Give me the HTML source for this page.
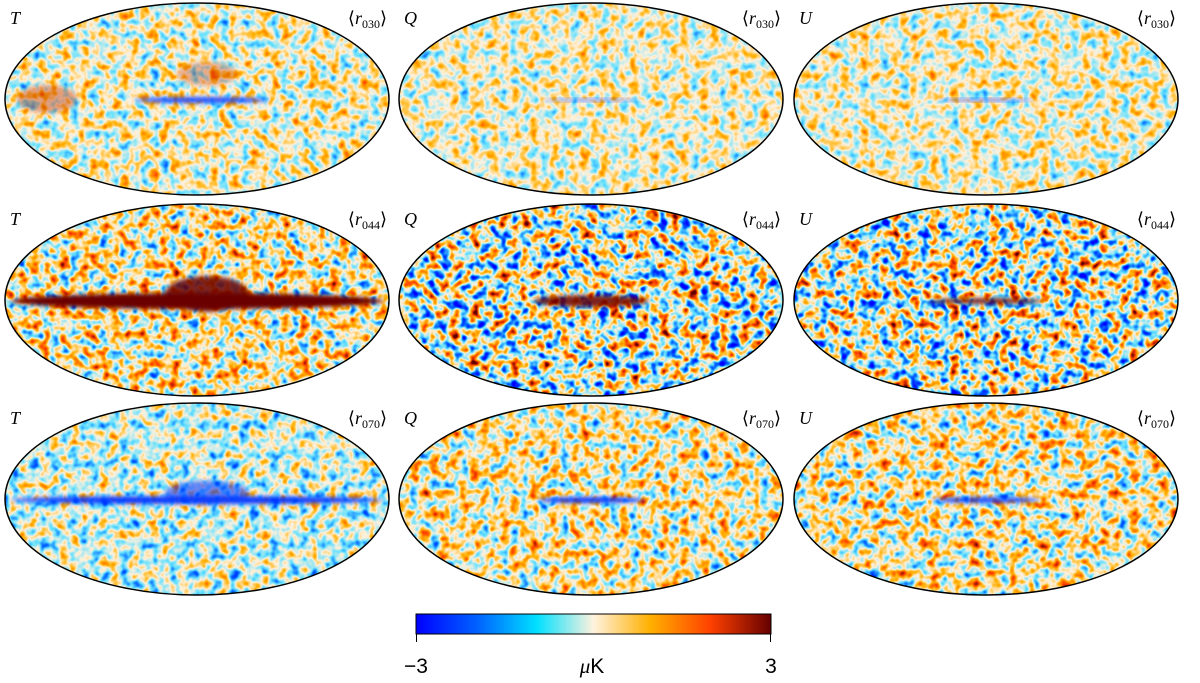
<!DOCTYPE html>
<html><head><meta charset="utf-8">
<style>
html,body{margin:0;padding:0;background:#fff;}
svg{display:block;}
</style></head>
<body>
<svg id="fig" width="1200" height="683" viewBox="0 0 1200 683" xmlns="http://www.w3.org/2000/svg">
<defs id="defs">
<linearGradient id="cmap" x1="0" x2="1" y1="0" y2="0">
<stop offset="0" stop-color="#0000ff"/>
<stop offset="0.17" stop-color="#0060ff"/>
<stop offset="0.34" stop-color="#00e0ff"/>
<stop offset="0.5" stop-color="#fff2de"/>
<stop offset="0.66" stop-color="#ffb000"/>
<stop offset="0.83" stop-color="#ff4000"/>
<stop offset="1" stop-color="#650000"/>
</linearGradient>
<filter id="blur" x="-20%" y="-50%" width="140%" height="200%"><feGaussianBlur stdDeviation="2"/></filter>
</defs>
<g id="panels"></g>
<g>
<rect x="416" y="614" width="355" height="20" fill="url(#cmap)" stroke="#000" stroke-width="1"/>
<line x1="416.5" y1="634" x2="416.5" y2="642" stroke="#000"/>
<line x1="770.5" y1="634" x2="770.5" y2="642" stroke="#000"/>
<text x="416" y="673" font-family="Liberation Sans, sans-serif" font-size="21" text-anchor="middle">−3</text>
<text x="592" y="673" font-family="Liberation Sans, sans-serif" font-size="21" text-anchor="middle"><tspan font-style="italic" font-family="Liberation Serif, serif">μ</tspan>K</text>
<text x="771" y="673" font-family="Liberation Sans, sans-serif" font-size="21" text-anchor="middle">3</text>
</g>
</svg>
<script>
const stokes = ["T","Q","U"];
const freqs = ["030","044","070"];
// per panel: noise contrast, galactic band value (-1 blue .. 1 red), band strength, band half-length fraction, band thickness
const contrast = [[0.85,0.75,0.75],[1.25,1.7,1.6],[0.9,1.05,1.1]];
const bandValue = [[-1,-1,-1],[1,0.9,0.9],[-1,-1,-1]];
const bandStrength = [[0.85,0.5,0.6],[1,0.85,0.8],[0.95,0.95,0.85]];
const bandLength = [[0.35,0.25,0.25],[0.97,0.3,0.3],[0.97,0.28,0.28]];
const bandThick = [[3,1.5,1.5],[8,6,3],[4,3,3]];
const bias = [[0.0,0.0,0.0],[0.03,-0.03,-0.03],[-0.05,0.02,0.02]];

const NS="http://www.w3.org/2000/svg";
const defs=document.getElementById('defs');
const panels=document.getElementById('panels');
const colX=[197,591,986], rowY=[99,300,499], RX=192, RY=96;
const R=[0,0,96,255,255,255,101].map(v=>(v/255).toFixed(3)).join(' ');
const G=[0,96,224,242,176,64,0].map(v=>(v/255).toFixed(3)).join(' ');
const B=[255,255,255,222,0,0,0].map(v=>(v/255).toFixed(3)).join(' ');
function mk(t,a){const e=document.createElementNS(NS,t);for(const k in a)e.setAttribute(k,a[k]);return e;}
for(let r=0;r<3;r++)for(let c=0;c<3;c++){
  const id=`p${r}${c}`, cx=colX[c], cy=rowY[r];
  const k=contrast[r][c], off=0.5-0.5*k+bias[r][c];
  const f=mk('filter',{id:'f'+id,x:0,y:0,width:1,height:1,'color-interpolation-filters':'sRGB'});
  f.appendChild(mk('feTurbulence',{type:'fractalNoise',baseFrequency:'0.1',numOctaves:'2',seed:String(r*3+c+3)}));
  f.appendChild(mk('feColorMatrix',{type:'matrix',values:`${k} 0 0 0 ${off}  ${k} 0 0 0 ${off}  ${k} 0 0 0 ${off}  0 0 0 0 1`}));
  const ct=mk('feComponentTransfer',{});
  ct.appendChild(mk('feFuncR',{type:'table',tableValues:R}));
  ct.appendChild(mk('feFuncG',{type:'table',tableValues:G}));
  ct.appendChild(mk('feFuncB',{type:'table',tableValues:B}));
  f.appendChild(ct);
  defs.appendChild(f);
  const cp=mk('clipPath',{id:'c'+id}); cp.appendChild(mk('ellipse',{cx,cy,rx:RX,ry:RY})); defs.appendChild(cp);
  const g=mk('g',{});
  
  
  const inner=mk('g',{'clip-path':`url(#c${id})`});
  inner.appendChild(mk('rect',{x:cx-RX,y:cy-RY,width:2*RX,height:2*RY,filter:`url(#f${id})`}));
  const bv=bandValue[r][c], bs=bandStrength[r][c];
  const col=bv>0?'#6a0000':'#0030ff';
  const bg=mk('g',{filter:'url(#blur)',opacity:bs});
  const band=mk('ellipse',{cx:cx+(c===0&&r===0?5:0),cy:cy+1,rx:RX*bandLength[r][c],ry:bandThick[r][c],fill:col});
  
  
  bg.appendChild(band);
  if(c===0&&r>0){
    bg.appendChild(mk('ellipse',{cx:cx+10,cy:cy-6,rx:42,ry:r===1?18:12,fill:col,opacity:r===1?0.85:0.6}));
  }
  if(c===0&&r===0){
    bg.appendChild(mk('ellipse',{cx:cx-150,cy:cy,rx:30,ry:14,fill:'#c03000',opacity:0.5}));
    bg.appendChild(mk('ellipse',{cx:cx+10,cy:cy-25,rx:30,ry:12,fill:'#c03000',opacity:0.4}));
  }
  inner.appendChild(bg);
  g.appendChild(inner);
  g.appendChild(mk('ellipse',{cx,cy,rx:RX,ry:RY,fill:'none',stroke:'#000','stroke-width':1.5}));
  const t1=mk('text',{x:cx-RX+5,y:cy-RY+21,'font-family':'Liberation Serif, serif','font-style':'italic','font-size':18});
  t1.textContent=stokes[c];
  
  
  g.appendChild(t1);
  const t2=mk('text',{x:cx+RX-2,y:cy-RY+21,'font-family':'Liberation Serif, serif','font-size':18,'text-anchor':'end'});
  t2.innerHTML=`⟨<tspan font-style="italic">r</tspan><tspan font-size="12" dy="4">${freqs[r]}</tspan><tspan dy="-4">⟩</tspan>`;
  
  
  g.appendChild(t2);
  panels.appendChild(g);
}
</script>
</body></html>
